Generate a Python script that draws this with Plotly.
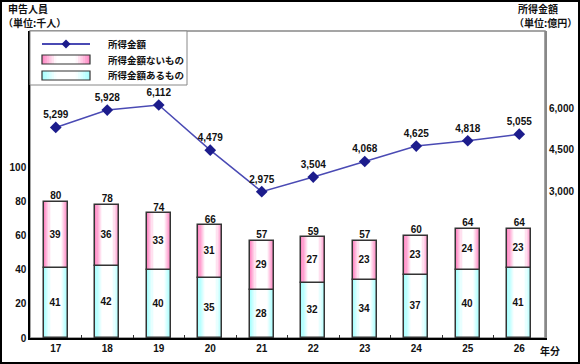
import plotly.graph_objects as go

# ---- data ----
years = ["17", "18", "19", "20", "21", "22", "23", "24", "25", "26"]
income_amount = [5299, 5928, 6112, 4479, 2975, 3504, 4068, 4625, 4818, 5055]   # 億円
with_income = [41, 42, 40, 35, 28, 32, 34, 37, 40, 41]                          # 千人
without_income = [39, 36, 33, 31, 29, 27, 23, 23, 24, 23]                       # 千人
totals = [80, 78, 74, 66, 57, 59, 57, 60, 64, 64]                               # 千人
left_ticks = [0, 20, 40, 60, 80, 100]
right_ticks = [3000, 4500, 6000]
legend_labels = ["所得金額", "所得金額ないもの", "所得金額あるもの"]

# ---- style ----
NUM_FONT = "Liberation Sans, Arial, Noto Sans CJK JP"
JP_FONT = "Noto Sans CJK JP, Liberation Sans"
BAR_W = 0.47
LAYERS = 10
PINK = (255, 140, 198)
CYAN = (170, 255, 255)
OUTLINE = "#333333"
LINE_COLOR = "#4a4ab4"
MARKER_COLOR = "#1c1c8c"

# plot-area geometry in page pixels (for decoration placement)
L, R, T, B = 30, 545, 31, 338


def px2x(px):
    return (px - L) / (R - L)


def py2y(py):
    return (B - py) / (B - T)


def mix(c, t):
    r, g, b = [round(v * (1 - t) + 255 * t) for v in c]
    return f"rgb({r},{g},{b})"


def grad_t(k):
    return min(1.0, k / (LAYERS * 0.55))


fig = go.Figure()

stack_top = [a + b for a, b in zip(with_income, without_income)]

segments = [
    (legend_labels[2], with_income, [0] * len(years), CYAN),
    (legend_labels[1], without_income, with_income, PINK),
]

for name, vals, base, edge in segments:
    for k in range(LAYERS):
        fig.add_trace(go.Bar(
            x=years, y=vals, base=base,
            width=BAR_W * (1 - k / LAYERS),
            marker=dict(color=mix(edge, grad_t(k)), line=dict(width=0)),
            name=name, showlegend=False, hoverinfo="skip",
        ))
    fig.add_trace(go.Bar(
        x=years, y=vals, base=base, width=BAR_W, name=name,
        marker=dict(color="rgba(0,0,0,0)", line=dict(color=OUTLINE, width=1.5)),
        text=[str(v) for v in vals], textposition="inside",
        insidetextanchor="middle", textangle=0,
        textfont=dict(family=NUM_FONT, size=10, color="#111", weight="bold"),
        showlegend=False, hoverinfo="skip",
    ))

# totals above bars
fig.add_trace(go.Scatter(
    x=years, y=stack_top, mode="text", text=[str(v) for v in totals],
    textposition="top center",
    textfont=dict(family=NUM_FONT, size=10, color="#111", weight="bold"),
    showlegend=False, hoverinfo="skip",
))

# income amount line
fig.add_trace(go.Scatter(
    x=years, y=income_amount, yaxis="y2", name=legend_labels[0],
    mode="lines+markers+text",
    line=dict(color=LINE_COLOR, width=1.5),
    marker=dict(symbol="diamond", size=9, color=MARKER_COLOR),
    text=[f"{v:,}" for v in income_amount], textposition="top center",
    textfont=dict(family=NUM_FONT, size=10, color="#111", weight="bold"),
    showlegend=False,
))

tickfont = dict(family=NUM_FONT, size=10, color="#111", weight="bold")

# ---- legend box (drawn as decoration, like the original) ----
shapes = [
    dict(type="rect", xref="paper", yref="paper", x0=0, x1=1, y0=0, y1=1,
         line=dict(color="#888", width=1.5), layer="below"),
    dict(type="rect", xref="paper", yref="paper",
         x0=px2x(1), x1=px2x(579), y0=py2y(363), y1=py2y(1),
         line=dict(color="black", width=2)),
    dict(type="rect", xref="paper", yref="paper",
         x0=px2x(30), x1=px2x(187), y0=py2y(85), y1=py2y(31),
         fillcolor="white", line=dict(color="#888", width=1)),
]
sw_x0, sw_x1 = 42, 90
rows_y = [44, 59.5, 75.5]
# line swatch
shapes.append(dict(type="line", xref="paper", yref="paper",
                   x0=px2x(sw_x0), x1=px2x(sw_x1),
                   y0=py2y(rows_y[0]), y1=py2y(rows_y[0]),
                   line=dict(color=LINE_COLOR, width=2)))
cx, cy, d = (sw_x0 + sw_x1) / 2, rows_y[0], 4.5
shapes.append(dict(type="path", xref="paper", yref="paper",
                   path=(f"M{px2x(cx)},{py2y(cy - d)} L{px2x(cx + d)},{py2y(cy)} "
                         f"L{px2x(cx)},{py2y(cy + d)} L{px2x(cx - d)},{py2y(cy)} Z"),
                   fillcolor=MARKER_COLOR, line=dict(width=0)))
# gradient swatches
for edge, ry in [(PINK, rows_y[1]), (CYAN, rows_y[2])]:
    w_full = sw_x1 - sw_x0
    for k in range(LAYERS):
        w = w_full * (1 - k / LAYERS)
        shapes.append(dict(type="rect", xref="paper", yref="paper",
                           x0=px2x(cx - w / 2), x1=px2x(cx + w / 2),
                           y0=py2y(ry + 4.5), y1=py2y(ry - 4.5),
                           fillcolor=mix(edge, grad_t(k)), line=dict(width=0)))
    shapes.append(dict(type="rect", xref="paper", yref="paper",
                       x0=px2x(sw_x0), x1=px2x(sw_x1),
                       y0=py2y(ry + 4.5), y1=py2y(ry - 4.5),
                       line=dict(color=OUTLINE, width=1.2)))

annotations = [
    dict(text=f"<b>{lab}</b>", xref="paper", yref="paper",
         x=px2x(106), y=py2y(ry), xanchor="left", yanchor="middle",
         showarrow=False, font=dict(family=JP_FONT, size=9.5, color="#111"))
    for lab, ry in zip(legend_labels, rows_y)
]
annotations += [
    dict(text="<b>申告人員</b>", xref="paper", yref="paper",
         x=px2x(6), y=py2y(9), xanchor="left", yanchor="middle",
         showarrow=False, font=dict(family=JP_FONT, size=10, color="#111")),
    dict(text="<b>（単位:千人）</b>", xref="paper", yref="paper",
         x=px2x(1), y=py2y(23), xanchor="left", yanchor="middle",
         showarrow=False, font=dict(family=JP_FONT, size=10, color="#111")),
    dict(text="<b>所得金額</b>", xref="paper", yref="paper",
         x=px2x(560), y=py2y(9), xanchor="right", yanchor="middle",
         showarrow=False, font=dict(family=JP_FONT, size=10, color="#111")),
    dict(text="<b>（単位:億円）</b>", xref="paper", yref="paper",
         x=px2x(579), y=py2y(23), xanchor="right", yanchor="middle",
         showarrow=False, font=dict(family=JP_FONT, size=10, color="#111")),
    dict(text="<b>年分</b>", xref="paper", yref="paper",
         x=px2x(538), y=py2y(350), xanchor="left", yanchor="middle",
         showarrow=False, font=dict(family=JP_FONT, size=10, color="#111")),
]

fig.update_layout(
    width=580, height=364,
    margin=dict(l=L, r=580 - R, t=T, b=364 - B, autoexpand=False),
    paper_bgcolor="white", plot_bgcolor="white",
    barmode="overlay", bargap=0,
    showlegend=False,
    xaxis=dict(type="category", range=[-0.5, 9.5], showline=True,
               linecolor="black", linewidth=1.5, ticks="inside",
               tickson="boundaries", ticklen=3, tickcolor="#333",
               tickfont=tickfont, showgrid=False, zeroline=False),
    yaxis=dict(range=[0, 180], tickvals=left_ticks, showline=True,
               linecolor="black", linewidth=1.5, showgrid=False,
               zeroline=False, ticks="", tickfont=tickfont),
    yaxis2=dict(overlaying="y", side="right", range=[-2318, 8789],
                tickvals=right_ticks, tickformat=",", showline=True,
                linecolor="#888", linewidth=2, showgrid=False,
                zeroline=False, ticks="", tickfont=tickfont),
    shapes=shapes,
    annotations=annotations,
)

fig.write_html("out.html", config={"displayModeBar": False},
               post_script="document.body.style.margin='0';")
